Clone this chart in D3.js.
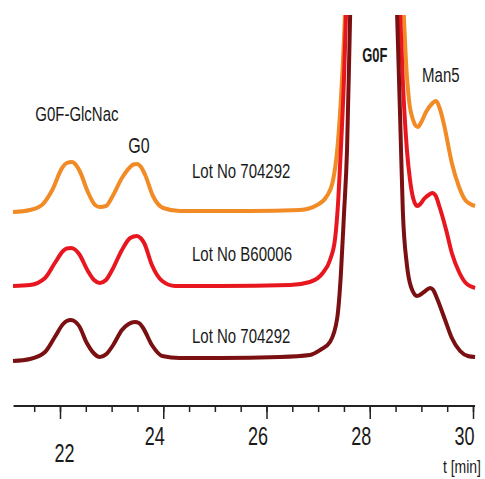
<!DOCTYPE html>
<html>
<head>
<meta charset="utf-8">
<script src="https://cdn.jsdelivr.net/npm/d3@7"></script>
<style>
  body { margin: 0; background: #fff; }
  text { font-family: "Liberation Sans", Arial, sans-serif; fill: #1a1a1a; }
</style>
</head>
<body>
<svg id="chart" width="485" height="479"></svg>
<script>
// retention time [min], signal above the trace's own baseline
var orangeTrace = [
  [21.09,-2],[21.42,0],[21.65,5],[21.85,20],[22.04,42],[22.13,47],[22.23,48],[22.31,45],
  [22.39,38],[22.54,18],[22.68,5],[22.77,3],[22.89,4],[23.01,13],[23.20,32],[23.36,43],
  [23.42,45.5],[23.49,46],[23.57,43],[23.65,35],[23.80,14],[24.00,2],[24.32,-1],[25.68,-1],
  [26.65,0],[26.98,5],[27.17,14],[27.29,30],[27.37,60],[27.44,110],[27.50,170],[27.52,195],
  [28.04,900],[28.66,195],[28.70,150],[28.76,110],[28.84,90],[28.88,85],[28.93,83],[29.00,88],
  [29.09,98],[29.20,106],[29.28,109],[29.36,101],[29.44,85],[29.59,47],[29.73,23],[29.85,10],
  [30.04,4]
];
var redTrace = [
  [21.09,-1],[21.42,0],[21.71,7],[21.90,22],[22.06,34],[22.13,36.5],[22.21,37],[22.29,35.5],
  [22.37,31],[22.54,14],[22.66,5],[22.77,2],[22.89,5],[23.01,15],[23.20,35],[23.36,47],
  [23.49,49],[23.56,47],[23.63,42],[23.78,20],[23.98,4],[24.23,-1],[25.10,-1],[26.46,0],
  [26.84,3],[27.09,12],[27.23,25],[27.33,47],[27.39,85],[27.44,135],[27.50,205],[27.54,270],
  [28.04,900],[28.59,270],[28.64,205],[28.72,135],[28.78,105],[28.84,87],[28.92,79],[28.98,81],
  [29.05,86],[29.14,90],[29.21,92],[29.28,89],[29.34,80],[29.48,55],[29.59,32],[29.73,13],
  [29.86,2],[30.04,-3]
];
var darkTrace = [
  [21.09,-4],[21.42,-2],[21.71,5],[21.90,20],[22.06,33],[22.13,36],[22.21,37],[22.29,35.5],
  [22.37,31],[22.52,14],[22.65,4],[22.77,0],[22.90,3],[23.03,12],[23.20,27],[23.33,33],
  [23.45,35],[23.53,34],[23.61,29],[23.78,12],[23.98,1],[24.32,-1],[25.10,-1],[26.26,0],
  [26.84,2],[27.04,7],[27.23,15],[27.37,39],[27.44,82],[27.50,142],[27.56,207],[27.62,342],
  [28.04,900],[28.53,342],[28.59,237],[28.64,147],[28.72,92],[28.80,70],[28.92,61],[29.05,65],
  [29.17,69],[29.23,67],[29.30,59],[29.46,37],[29.59,19],[29.75,6],[29.90,1],[30.04,0]
];
var traceOffsets = [147, 72, 0];
var lotNames = ["Lot No 704292", "Lot No B60006", "Lot No 704292"];
var peakNames = ["G0F-GlcNac", "G0", "G0F", "Man5"];
var peakTimes = [22.23, 23.49, 28.04, 29.28];
var majorTicks = [22, 24, 26, 28, 30];
var minorTicks = d3.range(21.5, 30.01, 0.5);
var axisLabel = "t [min]";

var traces = [orangeTrace, redTrace, darkTrace];
var colors = ["#f28a26", "#e8161e", "#7a1012"];

var svg = d3.select("#chart");
var x = d3.scaleLinear().domain([22, 30]).range([60, 473]);
var y = d3.scaleLinear().domain([0, 342]).range([357, 15]);

// text in the source is tall and narrow
var label = function(g, txt, px, py, size, anchor, sy, weight) {
  return g.append("text")
    .attr("transform", "translate(" + px + "," + py + ") scale(1," + sy + ")")
    .attr("text-anchor", anchor)
    .style("font-size", size + "px")
    .style("font-weight", weight || "normal")
    .text(txt);
};

svg.append("clipPath").attr("id", "clip")
  .append("rect").attr("x", 0).attr("y", 15).attr("width", 485).attr("height", 400);

var plot = svg.append("g").attr("clip-path", "url(#clip)");
traces.forEach(function(tr, i) {
  var line = d3.line()
    .x(function(d) { return x(d[0]); })
    .y(function(d) { return y(d[1] + traceOffsets[i]); })
    .curve(d3.curveMonotoneX);
  plot.append("path")
    .datum(tr)
    .attr("d", line)
    .attr("fill", "none")
    .attr("stroke", colors[i])
    .attr("stroke-width", 4)
    .attr("stroke-linejoin", "round");
});

// axis
var axisY = 406;
svg.append("line")
  .attr("x1", x(21.1)).attr("x2", x(30.04))
  .attr("y1", axisY).attr("y2", axisY)
  .attr("stroke", "#222").attr("stroke-width", 2);

var minorAxis = svg.append("g")
  .attr("transform", "translate(0," + axisY + ")")
  .call(d3.axisBottom(x).tickValues(minorTicks).tickSize(6).tickFormat(""));
var majorAxis = svg.append("g")
  .attr("transform", "translate(0," + axisY + ")")
  .call(d3.axisBottom(x).tickValues(majorTicks).tickSize(13).tickFormat(d3.format("d")));
[minorAxis, majorAxis].forEach(function(a) {
  a.select(".domain").remove();
  a.selectAll(".tick line").attr("stroke", "#222").attr("stroke-width", 1.5);
});
majorAxis.selectAll(".tick text")
  .attr("y", null).attr("dy", null)
  .attr("text-anchor", "end")
  .style("font-size", "18px")
  .style("font-family", "'Liberation Sans', Arial, sans-serif")
  .attr("fill", "#1a1a1a")
  .attr("transform", function(d, i) {
    // first label sits lower and to the right in the source
    return i === 0 ? "translate(14,56) scale(1,1.4)" : "translate(1,39) scale(1,1.4)";
  });

label(svg, axisLabel, 481, 473, 14, "end", 1.35);

// lot labels
lotNames.forEach(function(n, i) {
  label(svg, n, 192, 178 + i * 82.5, 15, "start", 1.4);
});

// peak labels
label(svg, peakNames[0], x(peakTimes[0]) + 5, 121, 15, "middle", 1.3);
label(svg, peakNames[1], x(peakTimes[1]) + 2, 153, 16, "middle", 1.35);
label(svg, peakNames[2], x(peakTimes[2]) + 3, 62, 13, "middle", 1.5, "bold");
label(svg, peakNames[3], x(peakTimes[3]) + 5, 82, 15, "middle", 1.35);
</script>
</body>
</html>
